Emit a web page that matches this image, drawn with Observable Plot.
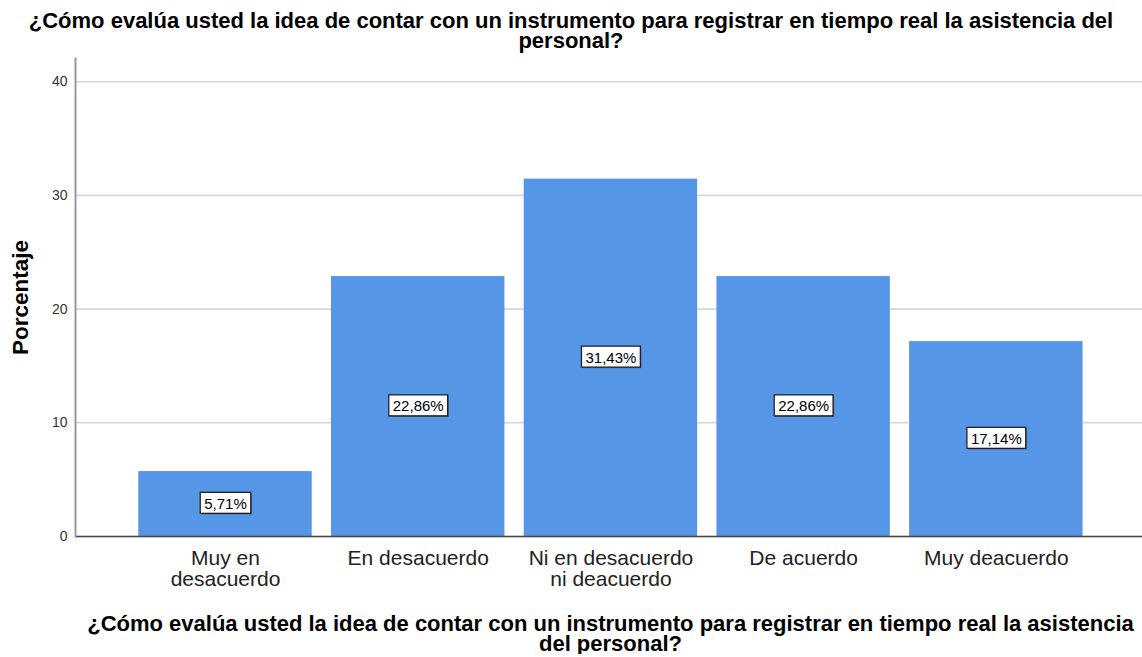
<!DOCTYPE html>
<html><head><meta charset="utf-8">
<script src="https://cdn.jsdelivr.net/npm/d3@7"></script>
<script src="https://cdn.jsdelivr.net/npm/@observablehq/plot@0.6"></script>
<style>
body{margin:0;background:#fff;font-family:"Liberation Sans",Arial,sans-serif;}
#wrap{width:1142px;}
.title{font-weight:bold;text-align:center;color:#000;white-space:nowrap;}
#top{font-size:22px;line-height:20px;padding-top:11px;height:45px;width:1142px;}
#bottom{font-size:22px;line-height:20px;padding-top:14px;margin-left:77px;width:1067px;}
svg{display:block;}
</style></head><body>
<div id="wrap">
<div class="title" id="top"></div>
<div id="chart"></div>
<div class="title" id="bottom"></div>
</div>
<script>
const categories = ["Muy en desacuerdo", "En desacuerdo", "Ni en desacuerdo ni deacuerdo", "De acuerdo", "Muy deacuerdo"];
const tickLabels = ["Muy en\ndesacuerdo", "En desacuerdo", "Ni en desacuerdo\nni deacuerdo", "De acuerdo", "Muy deacuerdo"];
const percentages = [5.71, 22.86, 31.43, 22.86, 17.14];
const yTicks = [0, 10, 20, 30, 40];
const titleLines = ["¿Cómo evalúa usted la idea de contar con un instrumento para registrar en tiempo real la asistencia del", "personal?"];
const xTitleLines = ["¿Cómo evalúa usted la idea de contar con un instrumento para registrar en tiempo real la asistencia", "del personal?"];
const yLabel = "Porcentaje";

document.getElementById("top").innerHTML = titleLines.join("<br>");
document.getElementById("bottom").innerHTML = xTitleLines.join("<br>");

const data = categories.map((c, i) => ({cat: c, label: tickLabels[i], pct: percentages[i]}));
const fmt = v => v.toFixed(2).replace(".", ",") + "%";

const W = 1142, H = 544;
const plot = Plot.plot({
  width: W, height: H,
  marginLeft: 75, marginRight: 0, marginTop: 2, marginBottom: 64,
  style: {fontFamily: "'Liberation Sans', Arial, sans-serif", background: "#fff", overflow: "visible"},
  x: {domain: categories, range: [128.65, 1092.2], paddingInner: 0.1, paddingOuter: 0.05, round: false, axis: null},
  y: {domain: [0, 42.04], axis: null},
  marks: [
    Plot.gridY(yTicks, {stroke: "#d6d6d6", strokeOpacity: 1, strokeWidth: 1.6}),
    Plot.barY(data, {x: "cat", y: "pct", fill: "#5596E6"}),
    Plot.ruleY([0], {stroke: "#444", strokeWidth: 1.5}),
    Plot.frame({anchor: "left", stroke: "#999", strokeWidth: 2}),
    Plot.axisY(yTicks, {tickSize: 0, tickPadding: 8, fontSize: 14, fill: "#333", label: null, tickFormat: d => String(d)}),
    Plot.axisX(categories, {tickSize: 0, tickPadding: 14, fontSize: 21, fill: "#222", lineHeight: 1.0, label: null,
      tickFormat: d => tickLabels[categories.indexOf(d)]}),
    Plot.text([yLabel], {frameAnchor: "left", dx: -55, rotate: -90, textAnchor: "middle", fontWeight: "bold", fontSize: 22.5, fill: "#000"}),
    Plot.text(data, {x: "cat", y: d => d.pct / 2, text: d => fmt(d.pct), fontSize: 15, fill: "#000"})
  ]
});
document.getElementById("chart").appendChild(plot);

// label boxes behind value labels
plot.querySelectorAll("text").forEach(t => {
  if (!/%$/.test(t.textContent)) return;
  const b = t.getBBox();
  const ns = "http://www.w3.org/2000/svg";
  const tr = t.getAttribute("transform");
  const mk = (dx, dy, fill, stroke) => {
    const r = document.createElementNS(ns, "rect");
    r.setAttribute("x", b.x - 4 + dx);
    r.setAttribute("y", b.y - 2.5 + dy);
    r.setAttribute("width", b.width + 8);
    r.setAttribute("height", b.height + 4);
    r.setAttribute("fill", fill);
    if (stroke) { r.setAttribute("stroke", stroke); r.setAttribute("stroke-width", 1.3); }
    if (tr) r.setAttribute("transform", tr);
    t.parentNode.insertBefore(r, t);
  };
  mk(1, 1, "#555", null);
  mk(0, 0, "#fff", "#222");
});
</script>
</body></html>
